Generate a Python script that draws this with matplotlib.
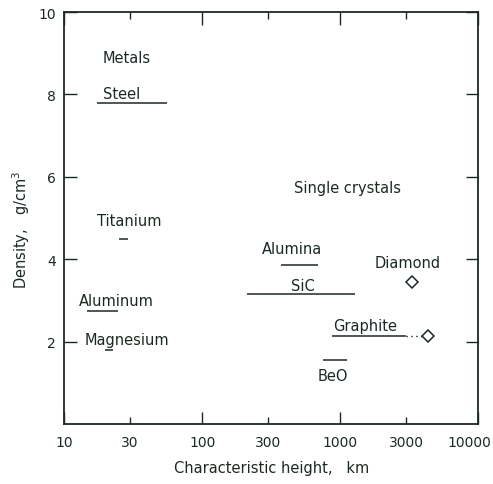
"""
Density vs characteristic height for metals and single crystals.
"""

import matplotlib

matplotlib.use("Agg")
import matplotlib.pyplot as plt
from matplotlib.transforms import ScaledTranslation

INK = "#1b2a20"

# horizontal range bars: name, low km, high km, density g/cm3
BAR_NAMES = ["Steel", "Titanium", "Aluminum", "Magnesium", "Alumina", "SiC", "Graphite", "BeO"]
BAR_LOW = [17.3, 25, 14.7, 19.8, 374, 212, 875, 753]
BAR_HIGH = [56, 29, 24.6, 22.6, 693, 1285, 3010, 1124]
BAR_DENSITY = [7.8, 4.5, 2.74, 1.8, 3.86, 3.16, 2.14, 1.55]

# single-point values (open diamonds)
POINT_NAMES = ["Diamond", "Graphite"]
POINT_X = [3320, 4340]
POINT_DENSITY = [3.45, 2.14]

# label positions (km, density)
LABELS = ["Metals", "Steel", "Titanium", "Aluminum", "Magnesium",
          "Single crystals", "Alumina", "SiC", "Diamond", "Graphite", "BeO"]
LABEL_X = [28.6, 26, 29.6, 24, 28.6, 1124, 449, 540, 3100, 1515, 890]
LABEL_Y = [8.9, 8.03, 4.95, 3.0, 2.06, 5.75, 4.25, 3.35, 3.93, 2.4, 1.17]

X_MAJOR = [10, 100, 1000, 10000]
X_MINOR = [30, 300, 3000]
Y_TICKS = [2, 4, 6, 8, 10]


def main() -> None:
    plt.rcParams["font.family"] = ["DejaVu Sans"]
    fig = plt.figure(figsize=(4.93, 4.85), dpi=100)
    ax = fig.add_axes([0.130, 0.124, 0.840, 0.849])

    for lo, hi, d in zip(BAR_LOW, BAR_HIGH, BAR_DENSITY):
        ax.plot([lo, hi], [d, d], color=INK, linewidth=1.1, solid_capstyle="butt")

    # dotted link from graphite range to the graphite single crystal point
    ax.plot([BAR_HIGH[6], POINT_X[1]], [BAR_DENSITY[6], POINT_DENSITY[1]],
            color=INK, linestyle=(0, (1, 2.5)), linewidth=1.0)

    ax.plot(POINT_X, POINT_DENSITY, linestyle="none", marker="D", markersize=6,
            markerfacecolor="white", markeredgecolor=INK, markeredgewidth=1.1, zorder=3)

    for t, x, y in zip(LABELS, LABEL_X, LABEL_Y):
        ax.text(x, y, t, ha="center", va="center", fontsize=10.5, color=INK)

    ax.set_xscale("log")
    ax.set_xlim(10, 10000)
    ax.set_ylim(0, 10)

    ax.set_xticks(X_MAJOR, labels=[str(v) for v in X_MAJOR])
    ax.set_xticks(X_MINOR, labels=[str(v) for v in X_MINOR], minor=True)
    ax.set_yticks(Y_TICKS, labels=[str(v) for v in Y_TICKS])
    ax.yaxis.set_minor_locator(matplotlib.ticker.NullLocator())

    ax.tick_params(axis="x", which="major", direction="in", length=9, width=1.0,
                   top=True, colors=INK, labelsize=10, pad=8)
    ax.tick_params(axis="x", which="minor", direction="in", length=5, width=1.0,
                   top=True, colors=INK, labelsize=10, pad=8)
    ax.tick_params(axis="y", direction="in", length=9, width=1.0,
                   right=True, colors=INK, labelsize=10, pad=6)

    # the last x label sits a little left of the corner, as in the original
    last = ax.get_xticklabels()[-1]
    last.set_transform(last.get_transform() + ScaledTranslation(-9 / 100, 0, fig.dpi_scale_trans))

    for s in ax.spines.values():
        s.set_color(INK)
        s.set_linewidth(1.3)

    ax.set_xlabel("Characteristic height,   km", fontsize=10.5, color=INK)
    ax.xaxis.set_label_coords(0.5, -0.087)
    ax.set_ylabel("Density,   g/cm$^3$", fontsize=10.5, color=INK)
    ax.yaxis.set_label_coords(-0.077, 0.473)

    fig.savefig("out.png", dpi=100)
    plt.close(fig)


if __name__ == "__main__":
    main()
